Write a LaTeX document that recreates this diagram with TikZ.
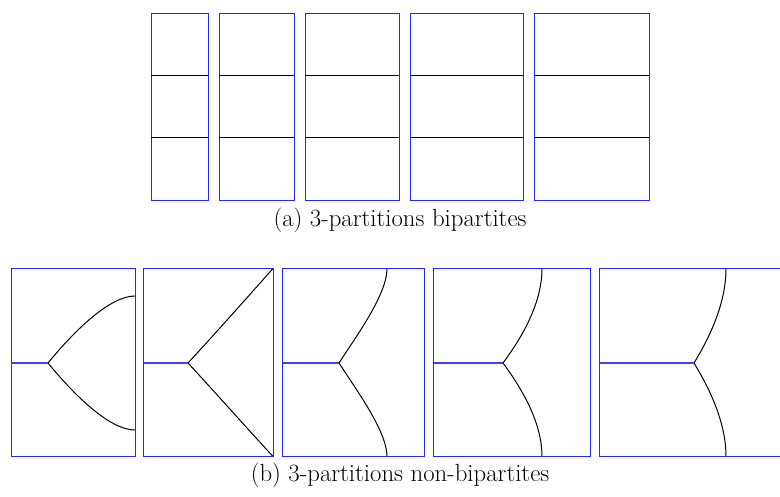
\documentclass[tikz,border=0pt]{standalone}
\usepackage{tikz}
\begin{document}
\begin{tikzpicture}[x=1pt,y=-1pt,
  frame/.style={draw=blue!85!white,line width=1pt},
  cutline/.style={draw=black,line width=1pt},
  bcut/.style={draw=blue!75!white,line width=1.2pt},
  captext/.style={font=\fontsize{24.8}{29}\selectfont,inner sep=0pt}]
\useasboundingbox (0,0) rectangle (780,496);
% top row: bipartite 3-partitions
\foreach \a/\b in {151/208,219/294,305/399,410/523,534/649}{
  \draw[frame] (\a,13) rectangle (\b,200);
  \draw[cutline] (\a,75.5) -- (\b,75.5);
  \draw[cutline] (\a,137.8) -- (\b,137.8);
}
\node[captext] (capa) at (400,220) {(a) 3-partitions bipartites};
% bottom row
% panel 1
\draw[cutline] (48,363) .. controls (75,330) and (110,296) .. (135,296);
\draw[cutline] (48,363) .. controls (75,396) and (110,430) .. (135,430);
\draw[bcut] (11,363) -- (48,363);
\draw[frame] (11,268.5) rectangle (135,456.5);
% panel 2
\draw[cutline] (188,363) .. controls (213,336) and (245,300) .. (273,268.5);
\draw[cutline] (188,363) .. controls (213,390) and (245,426) .. (273,456.5);
\draw[bcut] (143.5,363) -- (188,363);
\draw[frame] (143.5,268.5) rectangle (273,456.5);
% panel 3
\draw[cutline] (339,363) .. controls (355,338) and (387,295) .. (387,268.5);
\draw[cutline] (339,363) .. controls (355,388) and (387,431) .. (387,456.5);
\draw[bcut] (282.5,363) -- (339,363);
\draw[frame] (282.5,268.5) rectangle (424.5,456.5);
% panel 4
\draw[cutline] (503,363) .. controls (520,340) and (542,305) .. (542,268.5);
\draw[cutline] (503,363) .. controls (520,386) and (542,421) .. (542,456.5);
\draw[bcut] (433.5,363) -- (503,363);
\draw[frame] (433.5,268.5) rectangle (590,456.5);
% panel 5 (clipped at the right)
\draw[cutline] (694,363) .. controls (708,340) and (726,305) .. (726,268.5);
\draw[cutline] (694,363) .. controls (708,386) and (726,421) .. (726,456.5);
\draw[bcut] (599.5,363) -- (694,363);
\draw[frame] (780,268.5) -- (599.5,268.5) -- (599.5,456.5) -- (780,456.5);
\node[captext] (capb) at (400,475.5) {(b) 3-partitions non-bipartites};
\end{tikzpicture}
\end{document}
